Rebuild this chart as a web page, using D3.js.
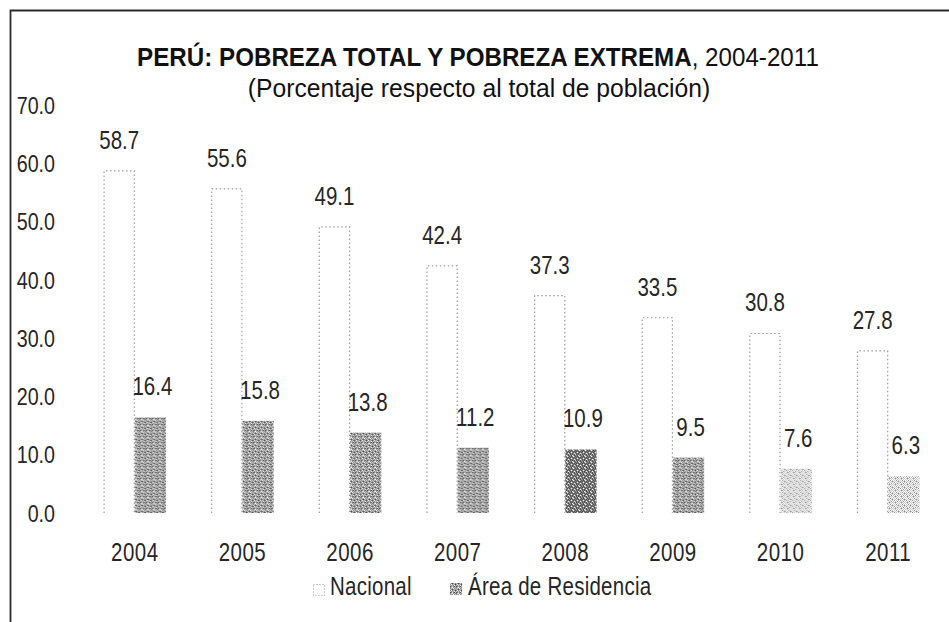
<!DOCTYPE html>
<html>
<head>
<meta charset="utf-8">
<script src="https://cdn.jsdelivr.net/npm/d3@7"></script>
<style>
    body { margin: 0; background: #fff; }
    svg { display: block; }
    .narrow { font-family: "Liberation Sans", Arial, sans-serif; fill: #262626; }
</style>
</head>
<body>
<svg id="chart" width="949" height="622"></svg>
<script>
var anios = ["2004", "2005", "2006", "2007", "2008", "2009", "2010", "2011"];
var nacional = [58.7, 55.6, 49.1, 42.4, 37.3, 33.5, 30.8, 27.8];
var residencia = [16.4, 15.8, 13.8, 11.2, 10.9, 9.5, 7.6, 6.3];
var series = ["Nacional", "Área de Residencia"];
var ticksY = [0, 10, 20, 30, 40, 50, 60, 70];

// textura de cada barra de residencia (solo estilo)
var tramaResidencia = ["media", "media", "media", "media", "oscura", "media", "clara", "clara"];

var NARROW = 0.82; // Liberation Sans comprimida ~ Arial Narrow

var TRAMAS = {
    media:  ["glgwgl", "lgdglg", "gwglgd", "lglgwg", "dglgdl", "glwglg"],
    oscura: ["gdgwgd", "dgdgdg", "gwgdgd", "dgdgwg", "dgdgdl", "gdwgdg"],
    clara:  ["wlwgwl", "lwlwlg", "wgwlwl", "lwlwgw", "wlglwl", "lwlwlw"]
};
var TONOS = { w: "#ffffff", l: "#c4c4c4", g: "#8a8a8a", d: "#4a4a4a" };

function buildPatterns(svg)
{
    let defs = svg.append("defs");
    for (let nombre in TRAMAS)
    {
        let filas = TRAMAS[nombre];
        let p = defs.append("pattern")
            .attr("id", "trama-" + nombre)
            .attr("patternUnits", "userSpaceOnUse")
            .attr("width", 6)
            .attr("height", 6);
        filas.forEach((fila, j) => {
            fila.split("").forEach((c, i) => {
                p.append("rect")
                    .attr("x", i).attr("y", j)
                    .attr("width", 1).attr("height", 1)
                    .attr("fill", TONOS[c]);
            });
        });
    }
}

// texto estrecho: se coloca con translate y se comprime en x
function narrowText(sel, fx, fy, anchor, size)
{
    return sel.append("text")
        .attr("class", "narrow")
        .attr("transform", (d, i) => "translate(" + fx(d, i) + "," + fy(d, i) + ") scale(" + NARROW + ",1)")
        .attr("dy", "0.36em")
        .attr("text-anchor", anchor)
        .style("font-size", size + "px");
}

document.addEventListener("DOMContentLoaded", () => {

    let svg = d3.select("#chart");
    buildPatterns(svg);

    svg.append("rect").attr("width", 949).attr("height", 622).attr("fill", "#fff");

    // marco escaneado
    svg.append("path")
        .attr("d", "M10.5,622 V10.5 H949")
        .attr("fill", "none")
        .attr("stroke", "#2a2a2a")
        .attr("stroke-width", 1.8);

    let x0 = d3.scaleBand()
        .domain(anios)
        .range([81, 942])
        .paddingInner(0.42)
        .paddingOuter(0.21);

    let x1 = d3.scaleBand()
        .domain(series)
        .range([0, x0.bandwidth()]);

    let y = d3.scaleLinear()
        .domain([0, 70])
        .range([513, 105]);

    // titulo
    let titulo = svg.append("text")
        .attr("transform", "translate(478,66) scale(0.93,1)")
        .attr("text-anchor", "middle")
        .style("font-family", "'Liberation Sans', Arial, sans-serif")
        .style("font-size", "26px")
        .style("fill", "#111");
    titulo.append("tspan").style("font-weight", "bold").text("PERÚ: POBREZA TOTAL Y POBREZA EXTREMA");
    titulo.append("tspan").text(", 2004-2011");

    svg.append("text")
        .attr("transform", "translate(479,97) scale(0.95,1)")
        .attr("text-anchor", "middle")
        .style("font-family", "'Liberation Sans', Arial, sans-serif")
        .style("font-size", "26px")
        .style("fill", "#111")
        .text("(Porcentaje respecto al total de población)");

    // eje y, solo etiquetas
    let ejeY = svg.append("g")
        .selectAll("g")
        .data(ticksY)
        .enter().append("g");
    narrowText(ejeY, d => 55, d => y(d), "end", 24)
        .text(d => d.toFixed(1));

    let grupos = svg.append("g")
        .selectAll("g")
        .data(anios)
        .enter().append("g")
            .attr("transform", d => "translate(" + x0(d) + ",0)");

    // Nacional: contorno punteado
    grupos.append("path")
        .attr("d", (d, i) => {
            let xa = x1("Nacional") + 0.5;
            let xb = x1("Nacional") + x1.bandwidth() - 0.5;
            return "M" + xa + "," + y(0) + " V" + y(nacional[i]) + " H" + xb + " V" + y(0);
        })
        .attr("fill", "#fff")
        .attr("stroke", "#9a9a9a")
        .attr("stroke-width", 1.2)
        .attr("stroke-dasharray", "1.5,2.5");

    // Area de residencia: barra con trama
    grupos.append("rect")
        .attr("x", x1("Área de Residencia"))
        .attr("width", x1.bandwidth())
        .attr("y", (d, i) => y(residencia[i]))
        .attr("height", (d, i) => y(0) - y(residencia[i]))
        .attr("fill", (d, i) => "url(#trama-" + tramaResidencia[i] + ")");

    narrowText(grupos, () => x1("Nacional") + x1.bandwidth() / 2, (d, i) => y(nacional[i]) - 31, "middle", 25)
        .text((d, i) => nacional[i].toFixed(1));

    narrowText(grupos, () => x1("Área de Residencia") + x1.bandwidth() / 2 + 2, (d, i) => y(residencia[i]) - 31, "middle", 25)
        .text((d, i) => residencia[i].toFixed(1));

    narrowText(grupos, () => x0.bandwidth() / 2, () => 552, "middle", 25)
        .style("letter-spacing", "0.6px")
        .text(d => d);

    // leyenda
    let leyenda = svg.append("g");
    leyenda.append("rect")
        .attr("x", 313.5).attr("y", 584.5)
        .attr("width", 11).attr("height", 11)
        .attr("fill", "#fff")
        .attr("stroke", "#9a9a9a")
        .attr("stroke-dasharray", "1,2");
    leyenda.append("rect")
        .attr("x", 450).attr("y", 583)
        .attr("width", 12).attr("height", 12)
        .attr("fill", "url(#trama-media)");
    let items = leyenda.selectAll("g.item")
        .data(series)
        .enter().append("g").attr("class", "item");
    narrowText(items, (d, i) => i == 0 ? 330 : 468, () => 586, "start", 25)
        .style("letter-spacing", "0.3px")
        .text(d => d);
});
</script>
</body>
</html>
